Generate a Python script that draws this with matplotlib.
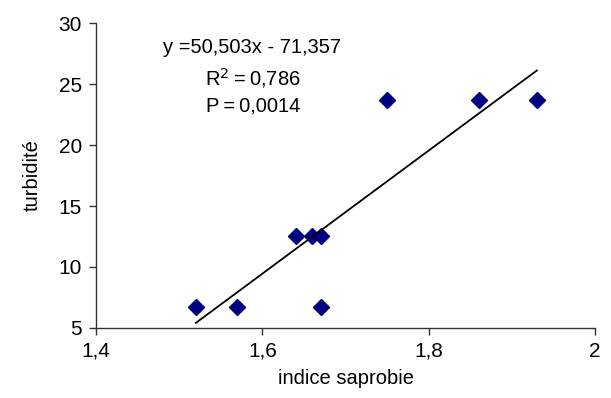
import numpy as np
import matplotlib.pyplot as plt

plt.rcParams['font.family'] = ['Liberation Sans', 'DejaVu Sans']

# data
indice = [1.52, 1.57, 1.67, 1.64, 1.66, 1.67, 1.75, 1.86, 1.93]
turbidite = [6.7, 6.7, 6.7, 12.5, 12.5, 12.5, 23.7, 23.7, 23.7]
slope = 50.503
intercept = -71.357

fig = plt.figure(figsize=(6.11, 3.98), dpi=100)
ax = fig.add_axes([0.157, 0.176, 0.817, 0.766])

ax.plot(indice, turbidite, 'D', color='#000080', markersize=8, linestyle='none')

xs = np.array([min(indice), max(indice)])
ax.plot(xs, slope * xs + intercept, color='black', linewidth=1.3)

ax.set_xlim(1.4, 2)
ax.set_ylim(5, 30)
ax.set_xticks([1.4, 1.6, 1.8, 2])
ax.set_xticklabels(['1,4', '1,6', '1,8', '2'])
ax.set_yticks([5, 10, 15, 20, 25, 30])
for s in ['top', 'right']:
    ax.spines[s].set_visible(False)
for s in ['left', 'bottom']:
    ax.spines[s].set_color('#333333')
    ax.spines[s].set_linewidth(1)
ax.tick_params(direction='out', length=5, width=1, color='#333333',
               labelsize=15, pad=5)

ax.set_xlabel('indice saprobie', fontsize=14.5, labelpad=6)
ax.set_ylabel('turbidité', fontsize=14.5, labelpad=12)

# regression annotation
ax.text(1.5876, 28.0, 'y =50,503x - 71,357', fontsize=14.5, ha='center', va='center')
ax.text(1.5885, 25.5, 'R$^2$\u2009=\u20090,786', fontsize=14.5, ha='center', va='center')
ax.text(1.5885, 23.2, 'P\u2009=\u20090,0014', fontsize=14.5, ha='center', va='center')

fig.savefig('out.png', dpi=100)
